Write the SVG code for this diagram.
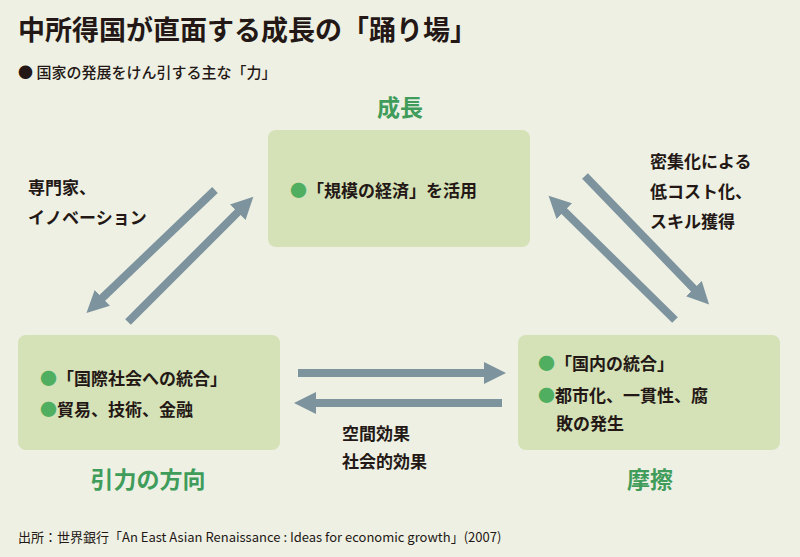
<svg xmlns="http://www.w3.org/2000/svg" width="800" height="557" viewBox="0 0 800 557">
<style>
text{font-family:"Noto Sans CJK JP","Noto Sans",sans-serif;fill:#231815}
.t{font-size:17px;font-weight:700}
.g{fill:#3f9c5a;font-weight:700;font-size:23px}
.b{fill:#4fae5f}
.box{fill:#d5e1b6}
.ar{stroke:#7d939e;stroke-width:8;fill:none;marker-end:url(#ah)}
</style>
<defs><marker id="ah" markerUnits="userSpaceOnUse" markerWidth="24" markerHeight="22" refX="6" refY="11" orient="auto"><path d="M0,0 L22,11 L0,22 Z" fill="#7d939e"/></marker></defs>
<rect width="800" height="557" fill="#eef0e3"/>
<text x="18" y="40" font-size="27" font-weight="700">中所得国が直面する成長の「踊り場」</text>
<text x="18" y="78" font-size="15" font-weight="500">● 国家の発展をけん引する主な「力」</text>
<g id="top"><rect class="box" x="268" y="130" width="262" height="117" rx="8"/><text x="290" y="197" class="t"><tspan class="b">●</tspan>「規模の経済」を活用</text></g>
<g id="left"><rect class="box" x="18" y="335" width="262" height="115" rx="8"/><text x="40" y="385" class="t"><tspan class="b">●</tspan>「国際社会への統合」</text><text x="40" y="416" class="t"><tspan class="b">●</tspan>貿易、技術、金融</text></g>
<g id="right"><rect class="box" x="518" y="335" width="262" height="115" rx="8"/><text x="538" y="370" class="t"><tspan class="b">●</tspan>「国内の統合」</text><text x="538" y="402" class="t"><tspan class="b">●</tspan>都市化、一貫性、腐</text><text x="556" y="430" class="t">敗の発生</text></g>
<g id="labels"><text x="400" y="116" class="g" text-anchor="middle">成長</text><text x="148" y="488" class="g" text-anchor="middle">引力の方向</text><text x="650" y="488" class="g" text-anchor="middle">摩擦</text>
<text x="28" y="194" class="t">専門家、</text><text x="28" y="224" class="t">イノベーション</text>
<text x="650" y="168" class="t">密集化による</text><text x="650" y="198" class="t">低コスト化、</text><text x="650" y="228" class="t">スキル獲得</text>
<text x="342" y="440" class="t">空間効果</text><text x="342" y="468" class="t">社会的効果</text></g>
<g id="connectors">
<line class="ar" x1="215" y1="190" x2="98" y2="302"/>
<line class="ar" x1="128" y1="322" x2="242" y2="208"/>
<line class="ar" x1="585" y1="176" x2="698" y2="293"/>
<line class="ar" x1="675" y1="320" x2="560" y2="207"/>
<line class="ar" x1="298" y1="373" x2="490" y2="373"/>
<line class="ar" x1="502" y1="403" x2="310" y2="403"/>
</g>
<text x="18" y="542" font-size="13">出所：世界銀行「An East Asian Renaissance : Ideas for economic growth」(2007)</text>
</svg>
